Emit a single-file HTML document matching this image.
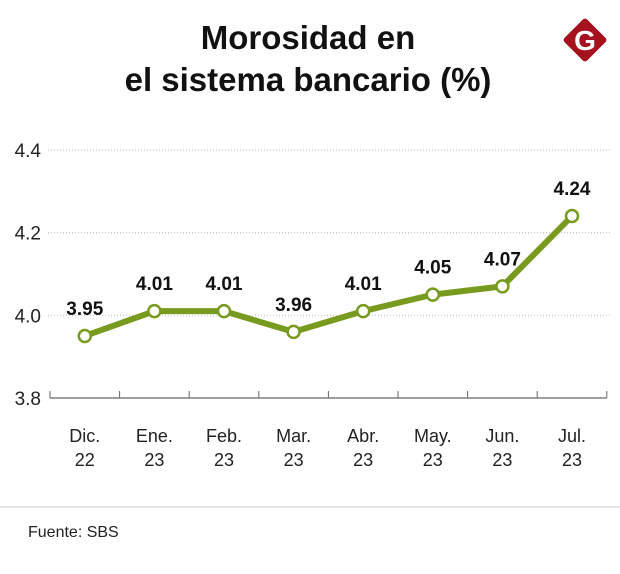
<!DOCTYPE html>
<html><head><meta charset="utf-8"><style>
body{margin:0;background:#fff;width:620px;height:569px;overflow:hidden;font-family:"Liberation Sans",sans-serif}
</style></head><body>
<svg width="620" height="569">
<text x="308" y="49" text-anchor="middle" font-size="33" font-weight="bold" fill="#111">Morosidad en</text>
<text x="308" y="91" text-anchor="middle" font-size="33" font-weight="bold" fill="#111">el sistema bancario (%)</text>
<g>
<rect x="569" y="24" width="32" height="32" rx="3" fill="#a5121e" transform="rotate(45 585 40)"/>
<text x="585" y="50" text-anchor="middle" font-size="28" font-weight="bold" fill="#fff">G</text>
</g>
<g id="grid"></g><g id="axis"></g><g id="series"></g>
<line x1="0" y1="507" x2="620" y2="507" stroke="#ccc"/>
<text x="28" y="537" font-size="16" fill="#222">Fuente: SBS</text>
</svg>
<script>
const categories=["Dic.|22","Ene.|23","Feb.|23","Mar.|23","Abr.|23","May.|23","Jun.|23","Jul.|23"];
const values=[3.95,4.01,4.01,3.96,4.01,4.05,4.07,4.24];
const labels=["3.95","4.01","4.01","3.96","4.01","4.05","4.07","4.24"];
const yTicks=[3.8,4.0,4.2,4.4];
const ns="http://www.w3.org/2000/svg";
const x0=50,step=69.6;
const xs=i=>x0+step*(i+0.5);
const ys=v=>398-(v-3.8)/0.2*82.7;
function mk(t,a,p){const e=document.createElementNS(ns,t);for(const k in a)e.setAttribute(k,a[k]);p.appendChild(e);return e;}
const G=document.getElementById('grid'),A=document.getElementById('axis'),S=document.getElementById('series');
yTicks.forEach(v=>{
 if(v>3.8){const l=mk('line',{x1:48,x2:612,y1:ys(v),y2:ys(v),stroke:'#bbb','stroke-dasharray':'1 2'},G);
 
 }
 const t=mk('text',{x:41,y:ys(v)+7,'text-anchor':'end','font-size':19,fill:'#222'},A);t.textContent=v.toFixed(1);
 
 
});
const ax=mk('line',{x1:x0,x2:x0+step*8,y1:398,y2:398,stroke:'#666','stroke-width':1.2},A);


for(let i=0;i<=categories.length;i++){const tk=mk('line',{x1:x0+step*i,x2:x0+step*i,y1:391,y2:398,stroke:'#666'},A);
 
 }
categories.forEach((c,i)=>{const [a,b]=c.split('|');
 const t=mk('text',{x:xs(i),y:442,'text-anchor':'middle','font-size':18,fill:'#222'},A);
 
 
 mk('tspan',{x:xs(i)},t).textContent=a;
 mk('tspan',{x:xs(i),dy:24},t).textContent=b;});
const pl=mk('polyline',{points:values.map((v,i)=>xs(i)+','+ys(v)).join(' '),fill:'none',stroke:'#789a1e','stroke-width':6,'stroke-linejoin':'round'},S);


values.forEach((v,i)=>{
 const c=mk('circle',{cx:xs(i),cy:ys(v),r:6,fill:'#fff',stroke:'#789a1e','stroke-width':2.5},S);
 
 
 const t=mk('text',{x:xs(i),y:ys(v)-21,'text-anchor':'middle','font-size':19,'font-weight':'bold',fill:'#111'},S);t.textContent=labels[i];
 
 
});
</script>
</body></html>
